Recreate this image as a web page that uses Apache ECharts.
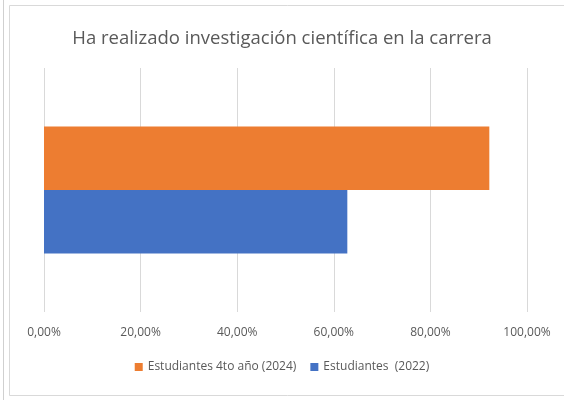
<!DOCTYPE html>
<html>
<head>
<meta charset="utf-8">
<script src="https://cdn.jsdelivr.net/npm/echarts@6/dist/echarts.min.js"></script>
<style>
  html, body { margin: 0; padding: 0; background: #fff; }
  #chart { width: 564px; height: 400px; }
</style>
</head>
<body>
<div id="chart"></div>
<script>
// datos
const categories = ['Investigación'];
const seriesNames = ['Estudiantes 4to año (2024)', 'Estudiantes  (2022)'];
const values2024 = [92.2];
const values2022 = [62.8];
const tickValues = [0, 20, 40, 60, 80, 100];

const chart = echarts.init(document.getElementById('chart'));
const fontFam = 'Open Sans';

chart.setOption({
    animation: false,
    title: {
        text: 'Ha realizado investigación científica en la carrera',
        left: 'center',
        top: 24,
        textStyle: { fontFamily: fontFam, fontSize: 18.5, fontWeight: 'normal', color: '#595959' }
    },
    graphic: [
        { type: 'rect', shape: { x: 9.5, y: 5.5, width: 560, height: 390 }, style: { fill: 'none', stroke: '#d9d9d9', lineWidth: 1 } },
        { type: 'line', shape: { x1: 3.5, y1: 0, x2: 3.5, y2: 400 }, style: { stroke: '#d0d0d0', lineWidth: 1 } }
    ],
    legend: {
        data: seriesNames,
        bottom: 22,
        left: 'center',
        itemWidth: 8,
        itemHeight: 8,
        itemGap: 14,
        icon: 'rect',
        textStyle: { fontFamily: fontFam, fontSize: 12, color: '#595959' }
    },
    grid: { left: 44, right: 37, top: 68, bottom: 88 },
    xAxis: {
        type: 'value',
        min: tickValues[0],
        max: tickValues[tickValues.length - 1],
        interval: 20,
        axisLine: { show: false },
        axisTick: { show: false },
        splitLine: { lineStyle: { color: '#d9d9d9' } },
        axisLabel: {
            margin: 15,
            fontFamily: fontFam, fontSize: 12, color: '#595959',
            formatter: v => v.toFixed(2).replace('.', ',') + '%'
        }
    },
    yAxis: {
        type: 'category',
        data: categories,
        axisLine: { show: false },
        axisTick: { show: false },
        axisLabel: { show: false }
    },
    series: [
        {
            name: seriesNames[0], type: 'bar', data: values2024,
            itemStyle: { color: '#ed7d31' },
            barGap: '0%', barCategoryGap: '48%'
        },
        {
            name: seriesNames[1], type: 'bar', data: values2022,
            itemStyle: { color: '#4472c4' },
            barGap: '0%', barCategoryGap: '48%'
        }
    ]
});
</script>
</body>
</html>
